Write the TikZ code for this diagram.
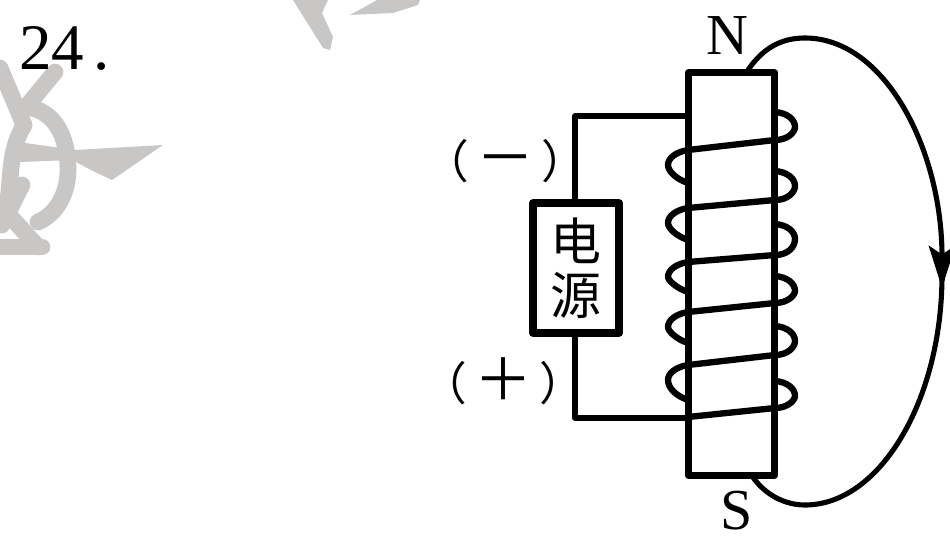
\documentclass[tikz,border=0pt]{standalone}
\usepackage{fontspec}
\setmainfont{Liberation Serif}
\newfontfamily\cjk{Noto Sans CJK SC}
\usetikzlibrary{arrows.meta}
\definecolor{stamp}{HTML}{C9C6C6}
\tikzset{
	wire/.style={line width=2.9pt},
	coil/.style={line width=3.6pt},
	letter/.style={inner sep=0pt,font=\fontsize{33}{33}\selectfont},
	sign/.style={inner sep=0pt,font=\cjk\fontsize{26}{26}\selectfont},
	stampline/.style={draw=stamp,line cap=round,line width=9.5pt}
}
\begin{document}
\begin{tikzpicture}[x=0.02cm,y=-0.02cm,line join=round]
	\useasboundingbox (0,0) rectangle (950,537);
	% faint stamp behind
	\fill[stamp] (293,0) -- (323,48) -- (330,50) -- (333,37) -- (322,13) -- (328,0) -- cycle;
	\fill[stamp] (350,15) -- (377,0) -- (420,0) -- (418,5) -- (393,13) -- cycle;
	\draw[stampline] (55,72) -- (22,112);
	\draw[stampline] (0,68) -- (24,125);
	\draw[stampline] (32,108) .. controls (60,115) and (68,145) .. (68,170) .. controls (68,195) and (55,215) .. (38,222);
	\draw[stampline] (24,125) .. controls (10,150) and (12,165) .. (8,200);
	\fill[stamp] (18,142) -- (75,150) -- (163,145) -- (112,180) -- (95,172) -- (72,160) -- (20,162) -- cycle;
	\draw[stampline] (0,205) -- (38,247);
	\draw[stampline] (22,185) -- (2,225);
	\draw[stampline] (0,247) -- (42,247);

	\node[letter,anchor=base west,font=\fontsize{37}{37}\selectfont] (number) at (19,70) {24\hspace{5pt}.};
	\node[letter] (north) at (727,36) {N};
	\node[letter] (south) at (737,511) {S};
	\node[sign] (minus) at (505,161) {（\hspace{4pt}{\fontsize{33}{33}\selectfont －}\hspace{4pt}）};
	\node[sign] (plus) at (503,381) {（\hspace{4pt}{\fontsize{33}{33}\selectfont ＋}\hspace{4pt}）};

	% coil behind the core
	\foreach \yr/\yl in {112/140,171/200,224/255,276/303,326/355,381/408} {
		\draw[coil] (775,\yr) .. controls (788,\yr+1) and (795,\yr+8) .. (795,\yr+15) .. controls (795,\yl-8) and (788,\yl) .. (775,\yl);
	}
	\foreach \yt/\yb in {150/183,208/240,262/292,312/343,365/400} {
		\draw[coil] (688,\yt) .. controls (676,\yt+2) and (668,\yt+8) .. (668,\yt+15) .. controls (668,\yb-12) and (676,\yb-4) .. (688,\yb);
	}
	\node[draw,fill=white,line width=3.9pt,minimum width=49.3pt,minimum height=229pt,inner sep=0pt,outer sep=0pt] (core) at (731.5,274) {};
	\draw[coil] (688,150) -- (775,140);
	\draw[coil] (688,208) -- (775,200);
	\draw[coil] (688,262) -- (775,255);
	\draw[coil] (688,312) -- (775,303);
	\draw[coil] (688,365) -- (775,355);
	\draw[coil] (688,417) -- (775,408);

	\node[draw,line width=4.2pt,minimum width=49pt,minimum height=74pt,inner sep=0pt,align=center,font=\cjk\fontsize{29}{31}\selectfont] (source) at (576,268) {电\\源};
	\coordinate (wiretop) at (575,116);
	\coordinate (wirebot) at (575,418);
	\draw[wire] (source.north -| wiretop) -- (wiretop) -- (wiretop -| core.west);
	\draw[wire] (source.south -| wirebot) -- (wirebot) -- (wirebot -| core.west);

	% field line with its arrow half way
	\coordinate (linestart) at (748,70);
	\coordinate (lineend) at (752,476);
	\draw[line width=2.9pt,-{Stealth[length=24pt,width=15pt,inset=5pt]}] (linestart) .. controls (765,45) and (785,38) .. (805,38) .. controls (885,38) and (942,150) .. (942,288);
	\draw[line width=2.9pt] (942,275) .. controls (942,400) and (880,505) .. (805,505) .. controls (785,505) and (765,495) .. (lineend);
\end{tikzpicture}
\end{document}
